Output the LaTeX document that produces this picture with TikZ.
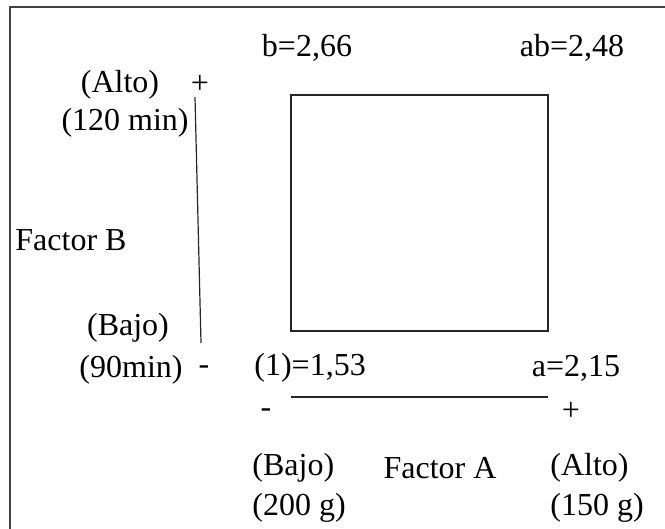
\documentclass[tikz,border=0pt]{standalone}
\usepackage{fontspec}
\setmainfont{Liberation Serif}
\usepackage{tikz}
\usetikzlibrary{positioning,calc}

\begin{document}
\begin{tikzpicture}[x=0.5pt,y=-0.5pt,font=\fontsize{16}{18}\selectfont,
  lbl/.style={inner sep=0pt},
  frm/.style={line width=0.8pt,black!75},
  ln/.style={line width=0.6pt,black!85}]
\useasboundingbox (0,0) rectangle (665,529);

% frame (only top and left edge visible)
\coordinate (fT) at (665,7);
\coordinate (fC) at (10,7);
\coordinate (fL) at (10,529);
\draw[frm] (fT) -- (fC) -- (fL);

% square of the 2^2 design
\coordinate (c1) at (291,331);
\coordinate (ca) at (548,331);
\coordinate (cab) at (548,95);
\coordinate (cb) at (291,95);
\draw[ln] (c1) -- (ca) -- (cab) -- (cb) -- cycle;

% factor B axis
\coordinate (bTop) at (195,97);
\coordinate (bBot) at (201,343);
\draw[ln] (bTop) -- (bBot);

% factor A axis
\coordinate (aL) at (291,397);
\coordinate (aR) at (548,397);
\draw[ln] (aL) -- (aR);

% corner values
\node[lbl] (vb) at (307,48) {b=2,66};
\node[lbl] (vab) at (572,48) {ab=2,48};
\node[lbl,anchor=west] (v1) at (254,368) {(1)=1,53};
\node[lbl] (va) at (576,368) {a=2,15};

% factor B labels
\node[lbl] (bAlto) at (120,85) {(Alto)};
\node[lbl] (bPlus) at (200,84) {+};
\node[lbl,anchor=east] (b120) at (189,123) {(120 min)};
\node[lbl,anchor=west] (facB) at (15,240) {Factor B};
\node[lbl] (bBajo) at (128,328) {(Bajo)};
\node[lbl] (b90) at (131,370) {(90min)};
\node[lbl] (bMinus) at (204,370) {-};

% factor A labels
\node[lbl] (aMinus) at (266,413) {-};
\node[lbl] (aPlus) at (571,411) {+};
\node[lbl,anchor=west] (aBajo) at (252,468) {(Bajo)};
\node[lbl] (facA) at (440,468) {Factor A};
\node[lbl,anchor=west] (aAlto) at (550,468) {(Alto)};
\node[lbl,anchor=west] (a200) at (252,508) {(200 g)};
\node[lbl,anchor=west] (a150) at (550,508) {(150 g)};
\end{tikzpicture}
\end{document}
